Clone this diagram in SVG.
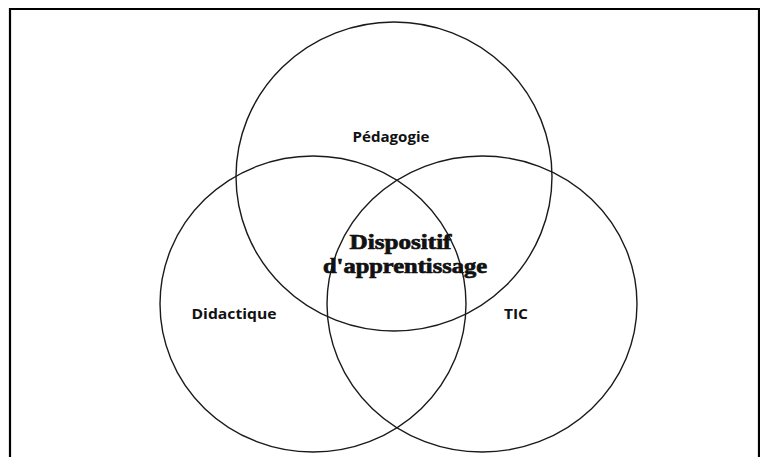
<svg xmlns="http://www.w3.org/2000/svg" width="760" height="457" viewBox="0 0 760 457">
<style>
.c{fill:none;stroke:#1a1a1a;stroke-width:1.4}
.l{font-family:"Open Sans","Liberation Sans",Arial,sans-serif;font-weight:bold;font-size:15px;fill:#111;text-anchor:middle}
.s{font-family:"Liberation Serif","Times New Roman",serif;font-weight:bold;font-size:21px;fill:#111;stroke:#111;stroke-width:0.7;text-anchor:middle}
</style>
<rect x="0" y="0" width="760" height="457" fill="#fff"/>
<path d="M10,460 V9 H759 V460" fill="none" stroke="#000" stroke-width="2.2"/>
<g id="pedagogie">
<ellipse class="c" cx="394" cy="176.5" rx="158" ry="154.5"/>
<text class="l" x="391" y="142" textLength="77" lengthAdjust="spacingAndGlyphs">Pédagogie</text>
</g>
<g id="didactique">
<ellipse class="c" cx="313" cy="304" rx="153" ry="148"/>
<text class="l" x="234" y="319" textLength="85" lengthAdjust="spacingAndGlyphs">Didactique</text>
</g>
<g id="tic">
<ellipse class="c" cx="482" cy="304" rx="155" ry="148"/>
<text class="l" x="516" y="319" textLength="24" lengthAdjust="spacingAndGlyphs">TIC</text>
</g>
<g id="dispositif">
<text class="s" x="400.5" y="249" textLength="102" lengthAdjust="spacingAndGlyphs">Dispositif</text>
<text class="s" x="405" y="273" textLength="164" lengthAdjust="spacingAndGlyphs">d'apprentissage</text>
</g>
<g id="connectors"></g>
</svg>
